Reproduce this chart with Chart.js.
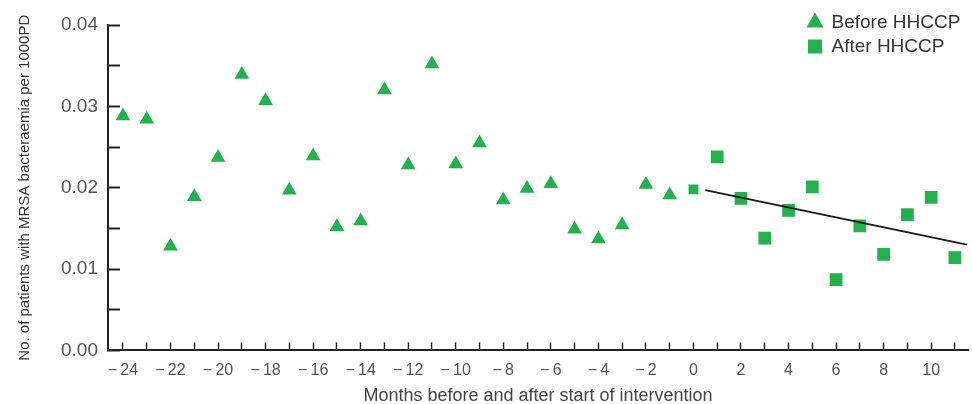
<!DOCTYPE html>
<html>
<head>
<meta charset="utf-8">
<script src="https://cdn.jsdelivr.net/npm/chart.js@4.4.1/dist/chart.umd.min.js"></script>
<style>
	html, body { margin: 0; padding: 0; background: #fff; }
</style>
</head>
<body>
<canvas id="myChart" width="972" height="404"></canvas>
<script>
// monthly values
var beforeMonths = [-24, -23, -22, -21, -20, -19, -18, -17, -16, -15, -14, -13, -12, -11, -10, -9, -8, -7, -6, -5, -4, -3, -2, -1];
var beforeValues = [0.0288, 0.0284, 0.0128, 0.0189, 0.0237, 0.0339, 0.0307, 0.0197, 0.0239, 0.0152, 0.0159, 0.0320, 0.0228, 0.0352, 0.0229, 0.0255, 0.0185, 0.0199, 0.0205, 0.0149, 0.0137, 0.0154, 0.0204, 0.0191];
var afterMonths = [0, 1, 2, 3, 4, 5, 6, 7, 8, 9, 10, 11];
var afterValues = [0.0198, 0.0238, 0.0187, 0.0138, 0.0172, 0.0201, 0.0087, 0.0153, 0.0118, 0.0167, 0.0188, 0.0114];
var trendMonths = [0.5, 11.5];
var trendValues = [0.0197, 0.0130];

var seriesNames = ["Before HHCCP", "After HHCCP"];
var xTitle = "Months before and after start of intervention";
var yTitle = "No. of patients with MRSA bacteraemia per 1000PD";

var green = "#22b14c";
var font = "'Liberation Sans', Arial, sans-serif";

function toPoints(xs, ys) {
	return xs.map((x, i) => ({ x: x, y: ys[i] }));
}

// put the legend in the top right corner of the plot
var legendInside = {
	id: "legendInside",
	afterLayout: function (chart) {
		var lg = chart.legend;
		var area = chart.chartArea;
		lg.left = area.right - 165;
		lg.right = lg.left + lg.width;
		lg.top = area.top - 17;
		lg.bottom = lg.top + lg.height;
	},
};

var ctx = document.getElementById("myChart").getContext("2d");
var chart = new Chart(ctx, {
	type: "scatter",
	data: {
		datasets: [
			{
				label: "trend",
				type: "line",
				data: toPoints(trendMonths, trendValues),
				borderColor: "#1a1a1a",
				borderWidth: 2,
				pointRadius: 0,
				fill: false,
			},
			{
				label: seriesNames[0],
				data: toPoints(beforeMonths, beforeValues),
				pointStyle: "triangle",
				pointRadius: 8.5,
				backgroundColor: green,
				borderColor: green,
				borderWidth: 0,
			},
			{
				label: seriesNames[1],
				data: toPoints(afterMonths, afterValues),
				pointStyle: "rect",
				pointRadius: (c) => (c.dataIndex === 0 ? 7 : 9),
				backgroundColor: green,
				borderColor: green,
				borderWidth: 0,
			},
		],
	},
	options: {
		responsive: false,
		animation: false,
		layout: { autoPadding: false, padding: { left: 16, right: 4, top: 25, bottom: 0 } },
		plugins: {
			tooltip: { enabled: false },
			legend: {
				position: "chartArea",
				align: "start",
				labels: {
					usePointStyle: true,
					boxWidth: 14,
					boxHeight: 14,
					padding: 5,
					color: "#333",
					font: { family: font, size: 19 },
					filter: (item) => item.text !== "trend",
				},
			},
		},
		scales: {
			x: {
				type: "linear",
				min: -24.63,
				max: 11.55,
				afterFit: (s) => {
					s.paddingLeft = 0;
					s.paddingRight = 0;
				},
				border: { color: "#222", width: 2 },
				grid: { drawOnChartArea: false, color: "#222", tickLength: -8, tickWidth: 1.5 },
				ticks: {
					stepSize: 1,
					includeBounds: false,
					autoSkip: false,
					maxRotation: 0,
					padding: 18.4,
					color: "#555",
					font: { family: font, size: 16 },
					callback: (v) => (v % 2 === 0 ? (v < 0 ? "\u2212\u2009" + -v : String(v)) : ""),
				},
				title: {
					display: true,
					text: xTitle,
					color: "#444",
					font: { family: font, size: 18 },
					padding: { top: -13, bottom: -3 },
				},
			},
			y: {
				min: 0,
				max: 0.04,
				afterFit: (s) => {
					s.paddingTop = 0;
					s.paddingBottom = 0;
				},
				border: { color: "#222", width: 2 },
				grid: { drawOnChartArea: false, color: "#222", tickLength: -12, tickWidth: 2 },
				ticks: {
					stepSize: 0.005,
					padding: 22,
					color: "#555",
					font: { family: font, size: 19 },
					callback: (v) => (Math.abs(v * 100 - Math.round(v * 100)) < 1e-6 ? v.toFixed(2) : ""),
				},
				title: {
					display: true,
					text: yTitle,
					color: "#333",
					font: { family: font, size: 15 },
					padding: { top: 0, bottom: 5 },
				},
			},
		},
	},
	plugins: [legendInside],
});
</script>
</body>
</html>
